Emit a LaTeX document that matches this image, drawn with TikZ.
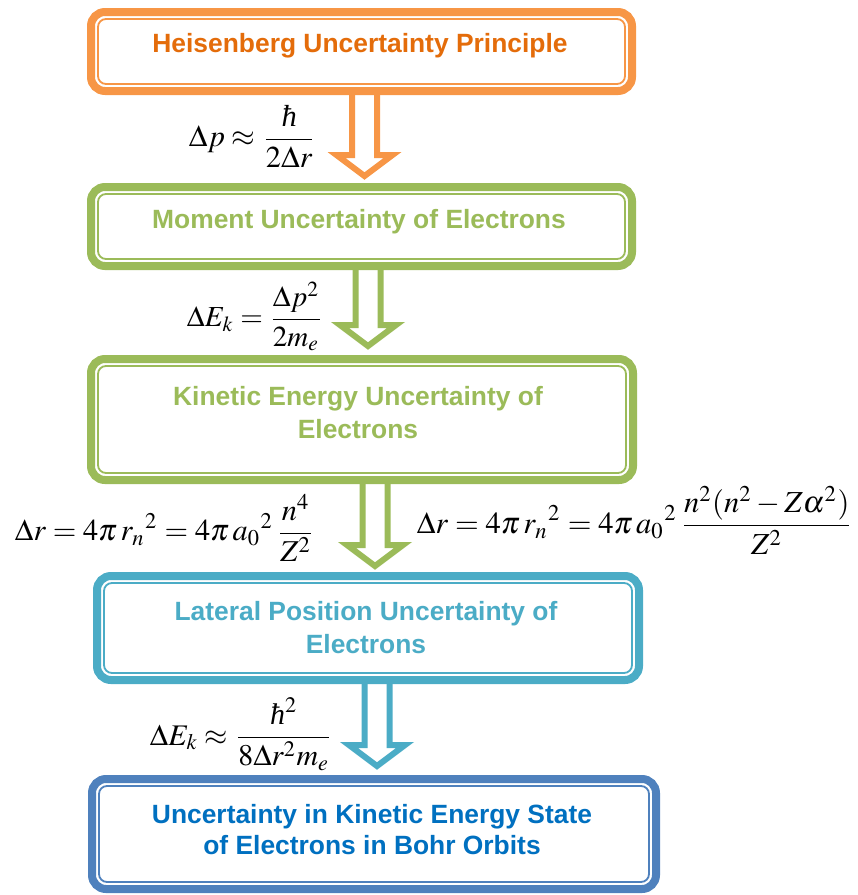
\documentclass[tikz,border=0pt]{standalone}
\usepackage{mathptmx}
\usepackage{fontspec}
\setmainfont{Liberation Serif}
\newfontfamily\boxfont{Liberation Sans}
\usepackage{graphicx}
\definecolor{orangeB}{HTML}{F79646}
\definecolor{orangeT}{HTML}{E46C0A}
\definecolor{greenB}{HTML}{9BBB59}
\definecolor{cyanB}{HTML}{4BACC6}
\definecolor{blueB}{HTML}{4F81BD}
\definecolor{blueT}{HTML}{0070C0}
\newcommand\hbarglyph{\mbox{\itshape ħ}}
\tikzset{
  boxshape/.style={draw=#1, line width=8pt, rounded corners=14pt, fill=white, inner sep=0pt, outer sep=0pt},
  innerline/.style={draw=#1, line width=1.8pt, rounded corners=8pt},
  boxtext/.style={text=#1, font=\boxfont\bfseries\fontsize{26.4}{33}\selectfont, align=center, inner sep=0pt},
  eqnode/.style={inner sep=0pt},
  hollow/.style={draw=#1, line width=6pt, fill=white, miter limit=10, line join=miter}
}
\newcommand\hollowdown[3]{%
  \draw[hollow=#1] ([shift={(-12.5,0)}]#2) -- ([shift={(-12.5,-21)}]#3) -- ([shift={(-28,-21)}]#3) -- (#3) -- ([shift={(28,-21)}]#3) -- ([shift={(12.5,-21)}]#3) -- ([shift={(12.5,0)}]#2);}
\begin{document}
\begin{tikzpicture}[x=1pt,y=-1pt]
\useasboundingbox (0,0) rectangle (858,895);
% arrows (drawn first, box bands cover their tops)
\coordinate (a1top) at (364.5,91);  \coordinate (a1tip) at (364.5,176);
\coordinate (a2top) at (368,266);   \coordinate (a2tip) at (368,346);
\coordinate (a3top) at (375,480);   \coordinate (a3tip) at (375,566);
\coordinate (a4top) at (377,680);   \coordinate (a4tip) at (377,766);
\hollowdown{orangeB}{a1top}{a1tip}
\hollowdown{greenB}{a2top}{a2tip}
\hollowdown{greenB}{a3top}{a3tip}
\hollowdown{cyanB}{a4top}{a4tip}
% boxes
\node[boxshape=orangeB, minimum width=541, minimum height=79] (b1) at (361.5,51.5) {};
\node[boxshape=greenB, minimum width=541, minimum height=79] (b2) at (361.5,226.5) {};
\node[boxshape=greenB, minimum width=542, minimum height=121] (b3) at (362,419.5) {};
\node[boxshape=cyanB, minimum width=542, minimum height=104] (b4) at (368,628) {};
\node[boxshape=blueB, minimum width=564, minimum height=110] (b5) at (374,834) {};
\foreach \b/\c in {b1/orangeB,b2/greenB,b3/greenB,b4/cyanB,b5/blueB}{
  \draw[innerline=\c] ([shift={(7,7)}]\b.north west) rectangle ([shift={(-7,-7)}]\b.south east);
}
% box texts
\node[boxtext=orangeT, anchor=base] (t1) at (360,52) {Heisenberg Uncertainty Principle};
\node[boxtext=greenB, anchor=base] (t2) at (359,228) {Moment Uncertainty of Electrons};
\node[boxtext=greenB] (t3) at (358,412.5) {Kinetic Energy Uncertainty of\\Electrons};
\node[boxtext=cyanB] (t4) at (366,628) {Lateral Position Uncertainty of\\Electrons};
\node[boxtext=blueT, font=\boxfont\bfseries\fontsize{26.4}{31}\selectfont] (t5) at (372,830) {Uncertainty in Kinetic Energy State\\of Electrons in Bohr Orbits};
% equations
\node[eqnode] (e1) at (252.5,136.5) {\resizebox{127pt}{!}{$\displaystyle \Delta p \approx \frac{\hbarglyph}{2\Delta r}$}};
\node[eqnode] (e2) at (255,316.5) {\resizebox{136pt}{!}{$\displaystyle \Delta E_{k} = \frac{\Delta p^{2}}{2m_{e}}$}};
\node[eqnode] (e3) at (165,528) {\resizebox{300pt}{!}{$\displaystyle \Delta r = 4\pi\,{r_{n}}^{2} = 4\pi\,{a_{0}}^{2}\,\frac{n^{4}}{Z^{2}}$}};
\node[eqnode] (e4) at (635,520.5) {\resizebox{436pt}{!}{$\displaystyle \Delta r = 4\pi\,{r_{n}}^{2} = 4\pi\,{a_{0}}^{2}\,\frac{n^{2}(n^{2}-Z\alpha^{2})}{Z^{2}}$}};
\node[eqnode] (e5) at (241.5,734) {\resizebox{183pt}{!}{$\displaystyle \Delta E_{k} \approx \frac{\hbarglyph^{2}}{8\Delta r^{2}m_{e}}$}};
\end{tikzpicture}
\end{document}
